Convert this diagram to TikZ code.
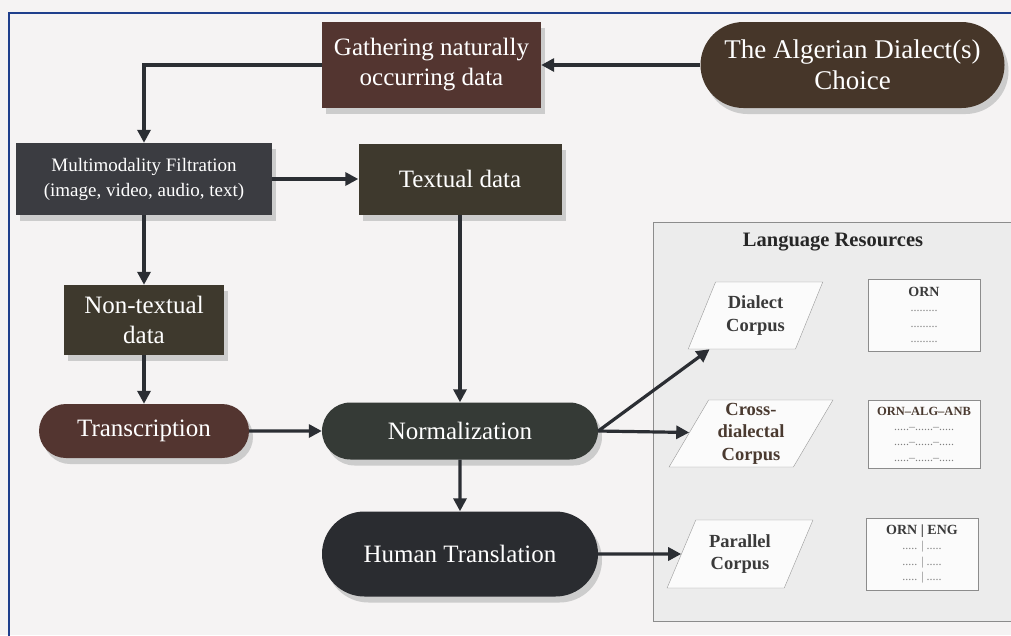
\documentclass[tikz,border=0pt]{standalone}
\usepackage{fontspec}
\setmainfont{Liberation Serif}
\usetikzlibrary{arrows.meta,shapes.misc,shapes.geometric,shadows}
\definecolor{paper}{HTML}{F5F3F3}
\definecolor{framec}{HTML}{1F3F8C}
\definecolor{maroon}{HTML}{533530}
\definecolor{choicec}{HTML}{463629}
\definecolor{filtc}{HTML}{3B3C41}
\definecolor{olivec}{HTML}{3E392D}
\definecolor{normc}{HTML}{353A36}
\definecolor{humanc}{HTML}{2A2C30}
\definecolor{arrowc}{HTML}{2B2E33}
\definecolor{panelc}{HTML}{ECECEC}
\definecolor{inkc}{HTML}{3A3A3A}
\definecolor{browninkc}{HTML}{4A3A30}
\begin{document}
\begin{tikzpicture}[x=1pt,y=-1pt, >={Triangle[length=13pt,width=13pt]},
  flow/.style={->, line width=3.2pt, draw=arrowc},
  dark/.style={draw=none, text=white, align=center, inner sep=0pt,
    font=\fontsize{25}{30}\selectfont,
    drop shadow={shadow xshift=4pt, shadow yshift=-6pt, fill=black!30, opacity=.6}},
  box/.style={dark, rectangle},
  pill/.style={dark, rounded rectangle},
  corpus/.style={trapezium, trapezium left angle=63, trapezium right angle=117,
    trapezium stretches=true, draw=gray!80, fill=white!97!gray, inner sep=0pt,
    align=center, font=\bfseries\fontsize{18.5}{22.5}\selectfont, text=inkc},
  lrtab/.style={rectangle, draw=gray!90, fill=white!97!gray, align=center,
    inner sep=0pt, font=\fontsize{12}{15.3}\selectfont, text=gray}]
\useasboundingbox (0,0) rectangle (1011,635);
\clip (0,0) rectangle (1011,635);
\fill[paper] (0,0) rectangle (1011,635);
\draw[framec, line width=2.5pt] (1030,13) -- (9,13) -- (9,650);
\draw[gray!90, fill=panelc] (653,222) rectangle (1030,621);
\node[font=\bfseries\fontsize{20.5}{24}\selectfont, text=black!85] (lr) at (833,242) {Language Resources};

\node[box, fill=maroon, minimum width=219, minimum height=86] (gather) at (431.5,65) {Gathering naturally\\occurring data};
\node[pill, fill=choicec, minimum width=304, minimum height=86, font=\fontsize{27}{31}\selectfont] (choice) at (852.5,65) {The Algerian Dialect(s)\\Choice};
\node[box, fill=filtc, minimum width=256, minimum height=72, font=\fontsize{19}{25}\selectfont] (filt) at (144,179) {Multimodality Filtration\\(image, video, audio, text)};
\node[box, fill=olivec, minimum width=203, minimum height=71] (textual) at (460,179) {Textual data};
\node[box, fill=olivec, minimum width=160, minimum height=70] (nontext) at (144,320) {Non-textual\\data};
\node[pill, fill=maroon, minimum width=210, minimum height=54] (transc) at (144,431) {Transcription};
\node[pill, fill=normc, minimum width=276, minimum height=57] (norm) at (460,431) {Normalization};
\node[pill, fill=humanc, minimum width=276, minimum height=85] (human) at (460,554) {Human Translation};

\node[corpus, minimum width=135, minimum height=67] (dialect) at (755.5,315.5) {Dialect\\Corpus};
\node[corpus, minimum width=164, minimum height=67, text=browninkc] (cross) at (751,433.5) {Cross-\\dialectal\\Corpus};
\node[corpus, minimum width=146, minimum height=68] (parallel) at (740,554) {Parallel\\Corpus};

\node[lrtab, minimum width=112, minimum height=72] (orn) at (924,315) {\textbf{\color{inkc}\fontsize{14}{16}\selectfont ORN}\\.........\\.........\\.........};
\node[lrtab, minimum width=112, minimum height=68] (oaa) at (924,434) {\textbf{\color{browninkc}\fontsize{12.5}{16}\selectfont ORN--ALG--ANB}\\.....--......--.....\\.....--......--.....\\.....--......--.....};
\node[lrtab, minimum width=112, minimum height=72] (oe) at (922,554) {\textbf{\color{inkc}\fontsize{14}{16}\selectfont ORN | ENG}\\..... | .....\\..... | .....\\..... | .....};

\draw[flow] (choice) -- (gather);
\draw[flow] (gather.west) -| (filt.north);
\draw[flow] (filt) -- (textual);
\draw[flow] (filt) -- (nontext);
\draw[flow] (nontext) -- (transc);
\draw[flow] (textual) -- (norm);
\draw[flow] (transc) -- (norm);
\draw[flow] (norm) -- (human);
\draw[flow] (norm.east) -- (dialect);
\draw[flow] (norm.east) -- (cross);
\draw[flow] (human) -- (parallel);
\end{tikzpicture}
\end{document}
